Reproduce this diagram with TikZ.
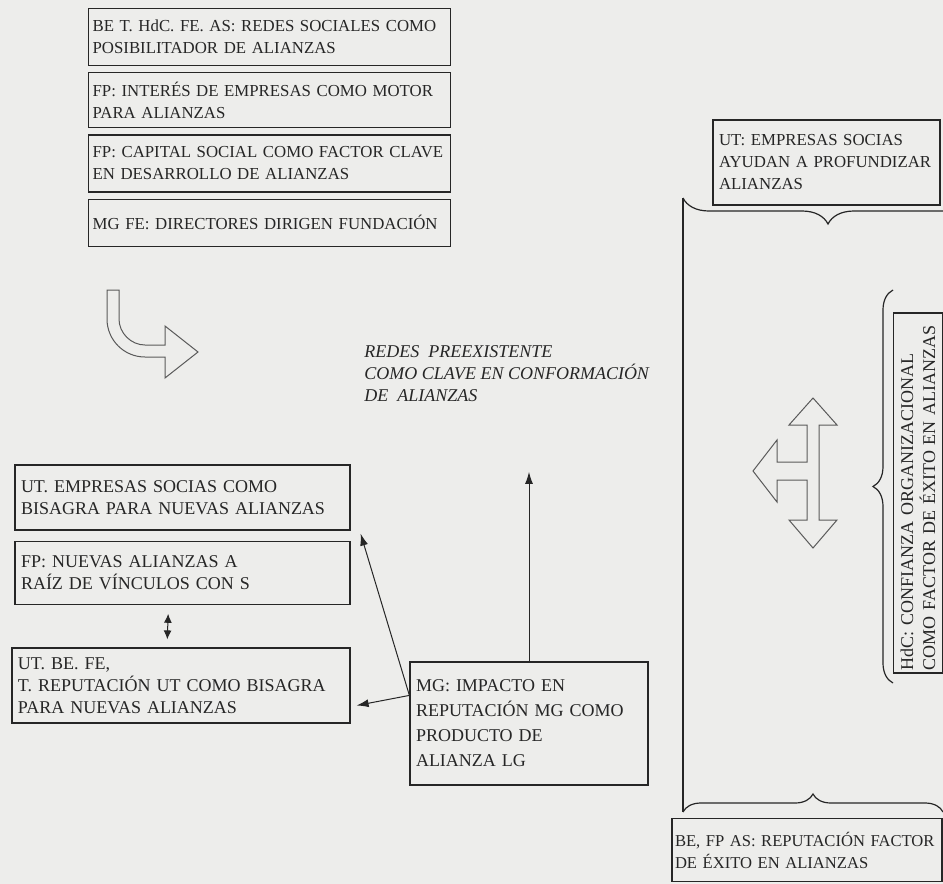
\documentclass[tikz,border=0pt]{standalone}
\usepackage{fontspec}
\setmainfont{Liberation Serif}
\usetikzlibrary{arrows.meta,positioning,decorations.pathreplacing}
\definecolor{ScanInk}{HTML}{262626}
\definecolor{ScanGrey}{HTML}{5A5A5A}
\definecolor{ScanPaper}{HTML}{EDEDEB}

\begin{document}
\begin{tikzpicture}[
        x=0.5pt,y=-0.5pt,
        node distance=3pt,
        box/.style={draw=ScanInk,line width=.6pt,text=ScanInk,align=left,inner xsep=3pt,inner ysep=2pt,font=\fontsize{8.4}{11}\selectfont},
        topbox/.style={box,inner xsep=2pt,text width=177pt},
        bigbox/.style={box,font=\fontsize{9}{11}\selectfont},
        note/.style={text=ScanInk,align=left,inner sep=2pt,font=\itshape\fontsize{9}{11}\selectfont},
        arr/.style={-{Latex[length=6pt,width=4pt]},line width=.5pt,ScanInk},
        dblarr/.style={{Latex[length=4.5pt,width=4pt]}-{Latex[length=4.5pt,width=4pt]},line width=.5pt,ScanInk},
        hollow/.style={draw=ScanGrey,line width=.5pt,line join=miter},
        brc/.style={draw=ScanInk,line width=.6pt,decorate}
      ]
        \path[use as bounding box] (0,0) rectangle (943,884);
        \clip (0,0) rectangle (943,884);
        \fill[ScanPaper] (0,0) rectangle (943,884);
        % upper left stack
        \node[topbox,minimum height=28.5pt,anchor=north west] (posib) at (88,8) {BE T. HdC. FE. AS: REDES SOCIALES COMO\\POSIBILITADOR DE ALIANZAS};
        \node[topbox,minimum height=27.5pt,below=of posib] (motor) {FP: INTERÉS DE EMPRESAS COMO MOTOR\\PARA ALIANZAS};
        \node[topbox,minimum height=28.5pt,below=of motor] (capital) {FP: CAPITAL SOCIAL COMO FACTOR CLAVE\\EN DESARROLLO DE ALIANZAS};
        \node[topbox,minimum height=23.5pt,below=of capital] (direct) {MG FE: DIRECTORES DIRIGEN FUNDACIÓN};
        % bent hollow arrow
        \draw[hollow] (107,290) -- (107,319) .. controls (107,340) and (124,357) .. (145,357) -- (165,357) -- (165,378) -- (198,352) -- (165,326) -- (165,345) -- (145,345) .. controls (131,345) and (119,333) .. (119,319) -- (119,290) -- cycle;
        \node[note,anchor=north west] (preex) at (360,341) {REDES\ \ PREEXISTENTE\\COMO CLAVE EN CONFORMACIÓN\\DE\ \ ALIANZAS};
        % lower left
        \node[bigbox,text width=161.5pt,minimum height=32.5pt] (socias) at (182.5,497.5) {UT. EMPRESAS SOCIAS COMO\\BISAGRA PARA NUEVAS ALIANZAS};
        \node[bigbox,text width=161.5pt,minimum height=31.5pt,below=5pt of socias] (vinculos) {FP: NUEVAS ALIANZAS A\\RAÍZ DE VÍNCULOS CON S};
        \node[bigbox,text width=163pt,minimum height=37.5pt] (reputut) at (181,685.5) {UT. BE. FE,\\T. REPUTACIÓN UT COMO BISAGRA\\PARA NUEVAS ALIANZAS};
        \node[box,text width=113pt,minimum height=61.5pt,font=\fontsize{9}{12.5}\selectfont] (mg) at (529,723.5) {MG: IMPACTO EN\\REPUTACIÓN MG COMO\\PRODUCTO DE\\ALIANZA LG};
        \coordinate (mgport) at ([yshift=-17pt]mg.north west);
        \draw[arr,shorten >=33pt] (mg.north) -- (mg.north |- preex.south);
        \draw[arr] (mgport) -- ([xshift=5pt,yshift=-1.5pt]socias.south east);
        \draw[arr] (mgport) -- ([xshift=3pt,yshift=-10pt]reputut.east);
        \draw[dblarr,shorten <=4.5pt,shorten >=4pt] ([xshift=-7pt]vinculos.south) -- ([xshift=-7pt]reputut.north);
        % right side
        \node[box,text width=107.5pt,minimum height=42.5pt] (profund) at (826.5,162.5) {UT: EMPRESAS SOCIAS\\AYUDAN A PROFUNDIZAR\\ALIANZAS};
        \node[box,rotate=90,text width=177pt,inner xsep=1.5pt,minimum height=24.5pt,font=\fontsize{9}{11}\selectfont] (hdc) at (918,493) {HdC: CONFIANZA ORGANIZACIONAL\\COMO FACTOR DE ÉXITO EN ALIANZAS};
        \node[box,text width=132pt,inner xsep=1.5pt,minimum height=31.5pt,font=\fontsize{8.3}{11}\selectfont] (reputfac) at (807,850) {BE, FP AS: REPUTACIÓN FACTOR\\DE ÉXITO EN ALIANZAS};
        \coordinate (frametop) at (683,198);
        \coordinate (framebot) at (683,812);
        \draw[line width=.6pt,ScanInk] (frametop) -- (framebot);
        \draw[brc,decoration={brace,mirror,amplitude=13pt}] (frametop) -- (973,198);
        \draw[brc,decoration={brace,amplitude=9pt}] (framebot) -- (943,812);
        \draw[brc,decoration={brace,amplitude=10pt}] (893,683) -- (893,290);
        % three-headed hollow arrow
        \draw[hollow] (813,398) -- (837,425) -- (819,425) -- (819,520) -- (837,520) -- (813,548) -- (789,520) -- (807,520) -- (807,480) -- (777,480) -- (777,502) -- (753,471) -- (777,440) -- (777,462) -- (807,462) -- (807,425) -- (789,425) -- cycle;
      \end{tikzpicture}
\end{document}
